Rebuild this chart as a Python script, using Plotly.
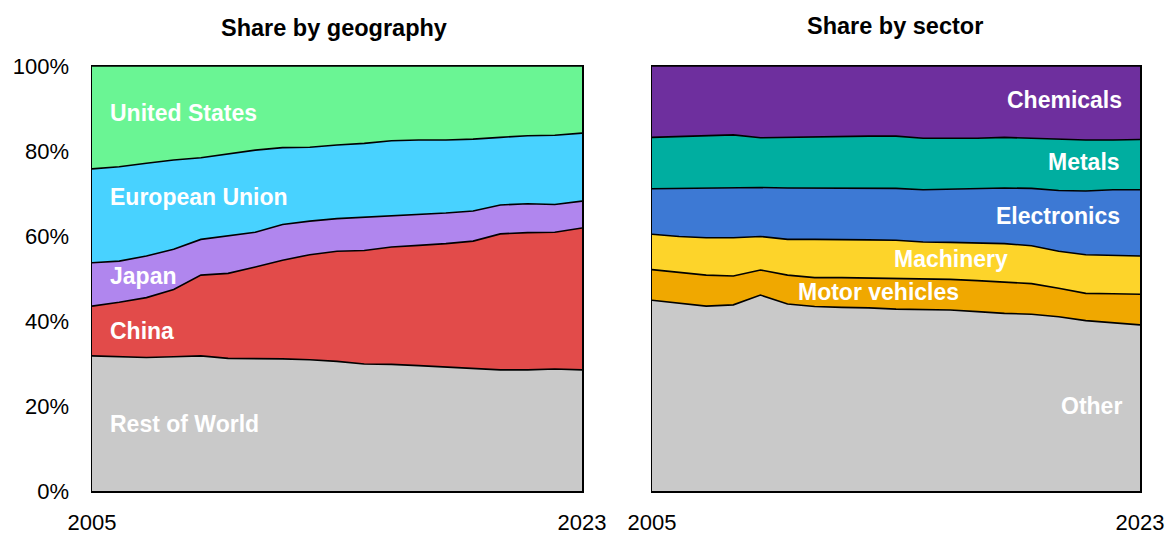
import plotly.graph_objects as go

years = list(range(2005, 2024))

# Share by geography (% of total)
rest_of_world = [31.8, 31.6, 31.4, 31.6, 31.8, 31.2, 31.2, 31.1, 30.9, 30.5, 29.9, 29.8, 29.5, 29.2, 28.8, 28.5, 28.5, 28.7, 28.5]
china = [11.7, 12.8, 14.1, 15.8, 19.0, 20.0, 21.5, 23.2, 24.7, 25.9, 26.7, 27.6, 28.3, 29.0, 30.0, 32.0, 32.3, 32.2, 33.4]
japan = [10.2, 9.7, 9.8, 9.5, 8.4, 8.8, 8.2, 8.4, 7.9, 7.7, 7.8, 7.4, 7.3, 7.2, 7.1, 6.8, 6.8, 6.5, 6.3]
european_union = [22.1, 22.2, 21.8, 21.0, 19.2, 19.3, 19.3, 18.1, 17.4, 17.3, 17.4, 17.6, 17.5, 17.2, 16.9, 15.9, 16.0, 16.3, 16.0]
united_states = [24.2, 23.7, 22.9, 22.1, 21.6, 20.7, 19.8, 19.2, 19.1, 18.6, 18.2, 17.6, 17.4, 17.4, 17.2, 16.8, 16.4, 16.3, 15.8]

# Share by sector (% of total)
other = [44.9, 44.2, 43.5, 43.8, 46.1, 44.0, 43.4, 43.2, 43.1, 42.8, 42.7, 42.6, 42.2, 41.8, 41.6, 41.0, 40.1, 39.6, 39.1]
motor_vehicles = [7.2, 7.2, 7.3, 6.8, 5.9, 6.8, 6.8, 7.0, 7.0, 7.2, 7.2, 7.2, 7.3, 7.3, 7.2, 6.7, 6.4, 6.8, 7.2]
machinery = [8.3, 8.5, 8.8, 9.0, 7.9, 8.4, 9.0, 9.0, 9.0, 9.0, 8.7, 8.7, 8.9, 9.1, 8.9, 8.7, 9.1, 9.1, 9.0]
electronics = [10.7, 11.3, 11.7, 11.8, 11.5, 12.1, 12.1, 12.0, 12.1, 12.2, 12.3, 12.5, 12.8, 13.1, 13.5, 14.3, 15.0, 15.4, 15.6]
metals = [12.1, 12.2, 12.2, 12.4, 11.7, 11.9, 12.1, 12.2, 12.3, 12.3, 12.1, 12.0, 11.8, 11.9, 11.8, 12.0, 12.0, 11.7, 11.8]
chemicals = [16.8, 16.6, 16.5, 16.2, 16.9, 16.8, 16.6, 16.6, 16.5, 16.5, 17.0, 17.0, 17.0, 16.8, 17.0, 17.3, 17.4, 17.4, 17.3]

geo_series = [
    ("Rest of World", rest_of_world, "#C9C9C9"),
    ("China", china, "#E24B4A"),
    ("Japan", japan, "#B086EE"),
    ("European Union", european_union, "#48D2FF"),
    ("United States", united_states, "#6AF594"),
]
sector_series = [
    ("Other", other, "#C9C9C9"),
    ("Motor vehicles", motor_vehicles, "#F0A800"),
    ("Machinery", machinery, "#FDD42A"),
    ("Electronics", electronics, "#3D79D4"),
    ("Metals", metals, "#00AEA0"),
    ("Chemicals", chemicals, "#6E2F9E"),
]

FONT = "Liberation Sans, Arial, sans-serif"
fig = go.Figure()

for name, vals, col in geo_series:
    fig.add_trace(go.Scatter(
        x=years, y=vals, name=name, mode="lines", stackgroup="geo",
        line=dict(color="black", width=1.6), fillcolor=col,
        xaxis="x", yaxis="y", showlegend=False, hoverinfo="skip"))

for name, vals, col in sector_series:
    fig.add_trace(go.Scatter(
        x=years, y=vals, name=name, mode="lines", stackgroup="sec",
        line=dict(color="black", width=1.6), fillcolor=col,
        xaxis="x2", yaxis="y2", showlegend=False, hoverinfo="skip"))

W, H = 1169, 534
def px_x(p):
    return p / W
def px_y(p):
    return 1 - p / H

axis_common = dict(
    showgrid=False, zeroline=False, showline=True, linecolor="black",
    linewidth=1.5, mirror=True, ticks="", automargin=False,
    tickfont=dict(family=FONT, size=22, color="black"),
)

fig.update_layout(
    width=W, height=H, autosize=False,
    margin=dict(l=0, r=0, t=0, b=0, pad=0, autoexpand=False),
    paper_bgcolor="white", plot_bgcolor="white",
    xaxis=dict(domain=[px_x(92), px_x(582)], range=[2005, 2023],
               tickvals=[2005, 2023], ticktext=["2005", "2023"],
               ticklabelstandoff=11, anchor="y", **axis_common),
    yaxis=dict(domain=[px_y(491), px_y(66)], range=[0, 100],
               tickvals=[0, 20, 40, 60, 80, 100],
               ticktext=["0%", "20%", "40%", "60%", "80%", "100%"],
               ticklabelstandoff=17, anchor="x", **axis_common),
    xaxis2=dict(domain=[px_x(652), px_x(1140)], range=[2005, 2023],
                tickvals=[2005, 2023], ticktext=["2005", "2023"],
                ticklabelstandoff=11, anchor="y2", **axis_common),
    yaxis2=dict(domain=[px_y(491), px_y(66)], range=[0, 100],
                showticklabels=False, anchor="x2", **axis_common),
)

lab_font = dict(family=FONT, size=23, color="white")
title_font = dict(family=FONT, size=23.5, color="black")

annotations = [
    dict(text="<b>Share by geography</b>", xref="paper", yref="paper",
         x=px_x(334), y=px_y(28), xanchor="center", yanchor="middle",
         showarrow=False, font=title_font),
    dict(text="<b>Share by sector</b>", xref="paper", yref="paper",
         x=px_x(895), y=px_y(26), xanchor="center", yanchor="middle",
         showarrow=False, font=title_font),
]

geo_labels = [
    ("United States", 2005.6, 88.9),
    ("European Union", 2005.6, 69.2),
    ("Japan", 2005.6, 50.6),
    ("China", 2005.6, 37.6),
    ("Rest of World", 2005.6, 15.8),
]
for t, xv, yv in geo_labels:
    annotations.append(dict(text=f"<b>{t}</b>", xref="x", yref="y", x=xv, y=yv,
                            xanchor="left", yanchor="middle", showarrow=False,
                            font=lab_font))

sector_labels = [
    ("Chemicals", 2022.41, 92.0),
    ("Metals", 2022.34, 77.4),
    ("Electronics", 2022.34, 64.7),
    ("Machinery", 2018.2, 54.6),
    ("Motor vehicles", 2016.4, 46.8),
    ("Other", 2022.41, 20.0),
]
for t, xv, yv in sector_labels:
    annotations.append(dict(text=f"<b>{t}</b>", xref="x2", yref="y2", x=xv, y=yv,
                            xanchor="right", yanchor="middle", showarrow=False,
                            font=lab_font))

fig.update_layout(annotations=annotations)
fig.write_html(
    "out.html",
    config={"displayModeBar": False, "staticPlot": True},
    post_script="document.body.style.margin='0';document.body.style.overflow='hidden';",
)
